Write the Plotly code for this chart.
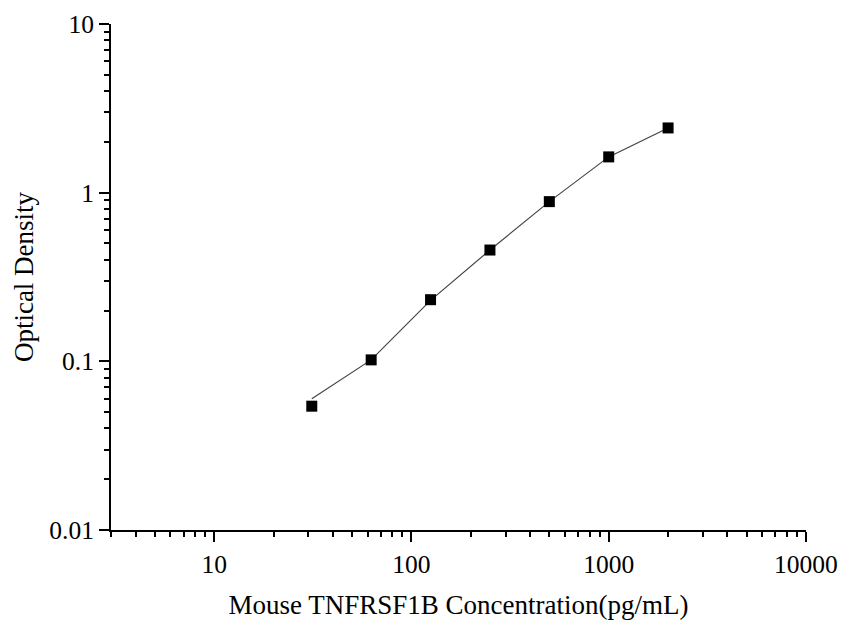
import plotly.graph_objects as go

# standard concentrations (pg/mL) and measured OD
concentration = [31.25, 62.5, 125, 250, 500, 1000, 2000]
optical_density = [0.0542, 0.102, 0.232, 0.457, 0.885, 1.63, 2.42]

# fitted curve (starts a bit above the first point)
fit_od = [0.060, 0.102, 0.230, 0.457, 0.885, 1.63, 2.42]

x_ticks = [10, 100, 1000, 10000]
x_tick_labels = ["10", "100", "1000", "10000"]
y_ticks = [0.01, 0.1, 1, 10]
y_tick_labels = ["0.01", "0.1", "1", "10"]

FONT = "Liberation Serif, Times New Roman, serif"

fig = go.Figure()

fig.add_trace(go.Scatter(
    x=concentration,
    y=fit_od,
    mode="lines",
    line=dict(color="#444444", width=1.2),
    showlegend=False,
))

fig.add_trace(go.Scatter(
    x=concentration,
    y=optical_density,
    mode="markers",
    marker=dict(symbol="square", size=11, color="black"),
    showlegend=False,
))

axis_common = dict(
    type="log",
    automargin=False,
    showgrid=False,
    zeroline=False,
    showline=True,
    linecolor="black",
    linewidth=2,
    ticks="outside",
    ticklen=10,
    tickwidth=2,
    tickcolor="black",
    ticklabeloverflow="allow",
    tickfont=dict(family=FONT, size=25.5, color="black"),
    minor=dict(ticks="outside", ticklen=5, tickwidth=2, tickcolor="black",
               dtick="D1", showgrid=False),
)

fig.update_xaxes(
    **axis_common,
    range=[0.4771, 4.0001],
    tickvals=x_ticks,
    ticktext=x_tick_labels,
    title=dict(text="Mouse TNFRSF1B Concentration(pg/mL)",
               font=dict(family=FONT, size=27, color="black"), standoff=18),
)

fig.update_yaxes(
    **axis_common,
    range=[-2.0001, 1.0001],
    tickvals=y_ticks,
    ticktext=y_tick_labels,
    title=dict(text="Optical Density",
               font=dict(family=FONT, size=27, color="black"), standoff=8),
)

fig.update_layout(
    width=850,
    height=630,
    paper_bgcolor="white",
    plot_bgcolor="white",
    margin=dict(l=103, r=52, t=16, b=108),
)

fig.write_html("out.html")
